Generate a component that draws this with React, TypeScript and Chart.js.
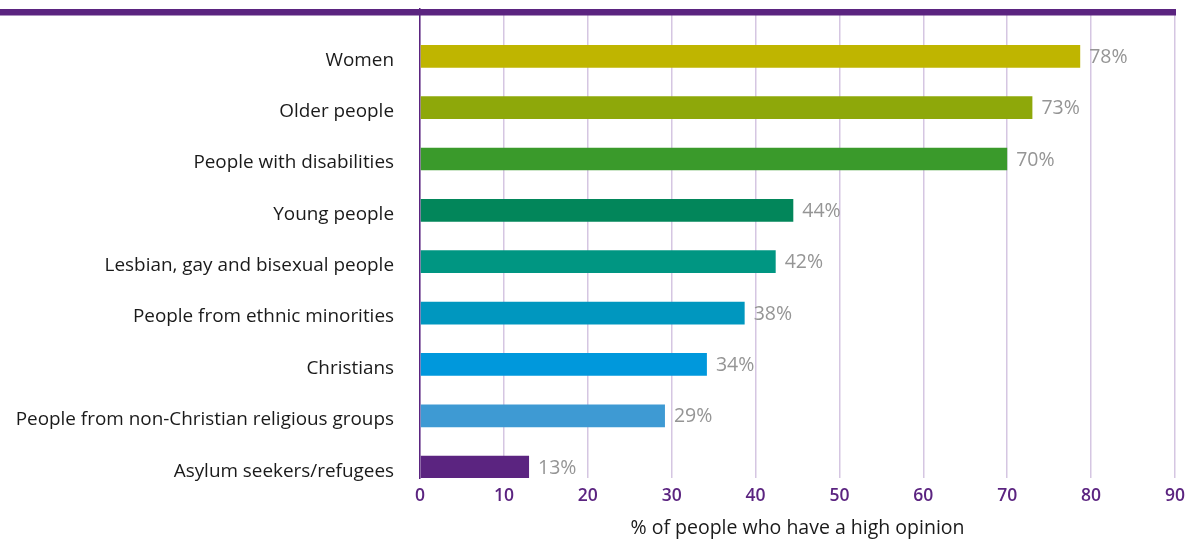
import React, { useEffect, useRef } from "react";
import { Chart, registerables } from "chart.js";

Chart.register(...registerables);

const categories = [
  "Women",
  "Older people",
  "People with disabilities",
  "Young people",
  "Lesbian, gay and bisexual people",
  "People from ethnic minorities",
  "Christians",
  "People from non-Christian religious groups",
  "Asylum seekers/refugees",
];
const values = [78.7, 73.0, 70.0, 44.5, 42.4, 38.7, 34.2, 29.2, 13.0];
const valueLabels = ["78%", "73%", "70%", "44%", "42%", "38%", "34%", "29%", "13%"];
const barColors = [
  "#BFB500",
  "#8EA80A",
  "#3A9A2B",
  "#02865A",
  "#009682",
  "#0097BF",
  "#0098DC",
  "#3E9AD3",
  "#5B2480",
];
const xTickValues = [0, 10, 20, 30, 40, 50, 60, 70, 80, 90];
const axisTitle = "% of people who have a high opinion";

const FONT = "'Open Sans', 'DejaVu Sans', sans-serif";
const PURPLE = "#5B2480";
const GRID = "#D5C6E2";

export default function App() {
  const ref = useRef<HTMLCanvasElement>(null);

  useEffect(() => {
    document.body.style.margin = "0";
    const canvas = ref.current;
    if (!canvas) return;

    const topBand = {
      id: "topBand",
      beforeDatasetsDraw(chart: any) {
        const { ctx, chartArea } = chart;
        ctx.save();
        ctx.fillStyle = PURPLE;
        ctx.fillRect(0, chartArea.top, chartArea.right + 1, 6.5);
        ctx.restore();
      },
    };

    const valueLabelPlugin = {
      id: "valueLabels",
      afterDraw(chart: any) {
        const { ctx } = chart;
        const meta = chart.getDatasetMeta(0);
        ctx.save();
        ctx.fillStyle = "#959595";
        ctx.font = `19.5px ${FONT}`;
        ctx.textAlign = "left";
        ctx.textBaseline = "middle";
        meta.data.forEach((bar: any, i: number) => {
          ctx.fillText(valueLabels[i], bar.x + 9, bar.y + 1);
        });
        ctx.restore();
      },
    };

    const chart = new Chart(canvas, {
      type: "bar",
      data: {
        datasets: [
          {
            data: values.map((v, i) => ({ x: v, y: i })) as any,
            backgroundColor: barColors,
            borderWidth: 0,
            categoryPercentage: 0.5,
            barPercentage: 0.885,
          },
        ],
      },
      options: {
        indexAxis: "y",
        animation: false,
        responsive: false,
        layout: { padding: { top: 9, right: 12, left: 0, bottom: 0 } },
        plugins: {
          legend: { display: false },
          tooltip: { enabled: false },
        },
        scales: {
          x: {
            type: "linear",
            position: "bottom",
            min: 0,
            max: 90,
            z: 1,
            afterBuildTicks: (scale: any) => {
              scale.ticks = xTickValues.map((v) => ({ value: v }));
            },
            afterFit: (scale: any) => {
              scale.height = 62;
              scale.paddingLeft = 0;
              scale.paddingRight = 0;
            },
            ticks: {
              color: PURPLE,
              font: { family: FONT, size: 17.5, weight: "600" },
              padding: 8,
              maxRotation: 0,
            },
            grid: {
              color: GRID,
              lineWidth: 1.5,
              drawTicks: false,
            },
            border: { display: false },
            title: {
              display: true,
              text: axisTitle,
              color: "#1A1A1A",
              font: { family: FONT, size: 19.5 },
              padding: { top: 0, bottom: 0 },
            },
          },
          y: {
            type: "linear",
            reverse: true,
            offset: false,
            bounds: "data",
            min: -0.92,
            max: 8.21,
            afterBuildTicks: (scale: any) => {
              scale.ticks = categories.map((_, i) => ({ value: i }));
            },
            afterFit: (scale: any) => {
              scale.width = 420;
              scale.paddingTop = 0;
              scale.paddingBottom = 0;
            },
            ticks: {
              autoSkip: false,
              color: "#1A1A1A",
              font: { family: FONT, size: 18.9 },
              padding: 26,
              labelOffset: 4,
              callback: (v: any) => categories[v as number] ?? "",
            },
            grid: { display: false, drawTicks: false, offset: false },
            border: { color: PURPLE, width: 1.5 },
          },
        },
      },
      plugins: [topBand, valueLabelPlugin],
    } as any);

    return () => chart.destroy();
  }, []);

  return (
    <div style={{ position: "fixed", left: 0, top: 0, width: 1187, height: 540, background: "#fff" }}>
      <canvas ref={ref} width={1187} height={540} />
    </div>
  );
}
